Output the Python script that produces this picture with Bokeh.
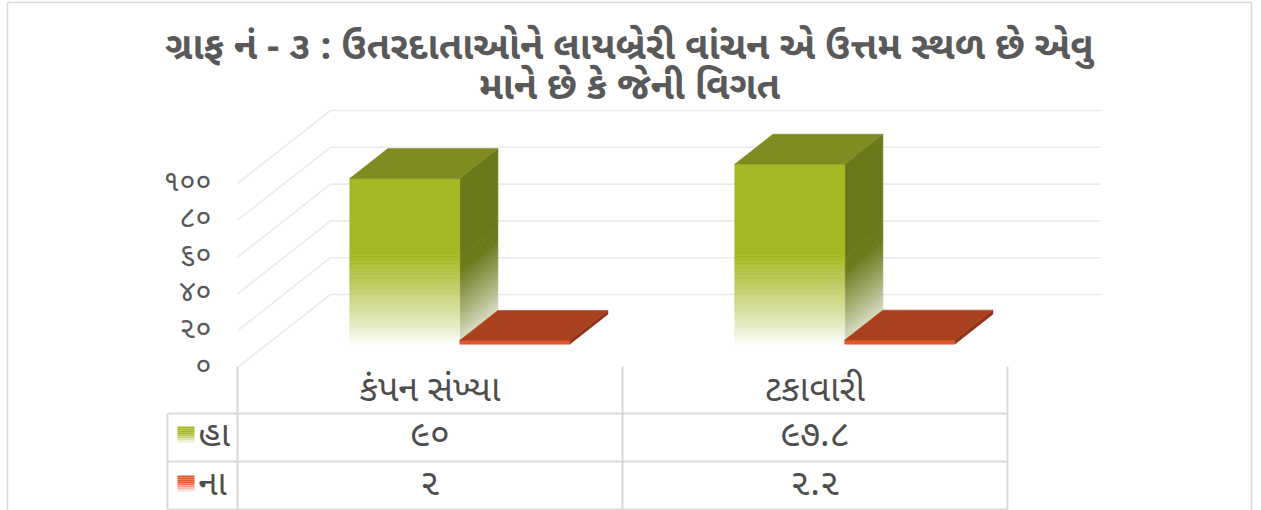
from bokeh.plotting import figure
from bokeh.models import Range1d
from bokeh.core.properties import value
from bokeh.embed import file_html
from bokeh.resources import INLINE

# ---------------- data ----------------
categories = ["કંપન સંખ્યા", "ટકાવારી"]
series_names = ["હા", "ના"]
yes_values = [90, 97.8]
no_values = [2, 2.2]
y_ticks = [0, 20, 40, 60, 80, 100]
title_lines = ["ગ્રાફ નં - ૩ : ઉતરદાતાઓને લાયબ્રેરી વાંચન એ ઉત્તમ સ્થળ છે એવુ",
               "માને છે કે જેની વિગત"]

series_values = [yes_values, no_values]

GU = str.maketrans("0123456789", "૦૧૨૩૪૫૬૭૮૯")
def gu(n):
    return f"{n:g}".translate(GU)

FONT = "Noto Sans Gujarati, Lohit Gujarati, Noto Sans, sans-serif"

# ---------------- layout constants ----------------
W, H = 1261, 510
S = 1.84            # px per value unit
FRONT0 = 367        # screen y of value 0 on the front plane
DXD = 93            # screen x shift per unit depth
DYD = 73 / S        # data y shift per unit depth

def Yp(py):
    return (FRONT0 - py) / S

p = figure(width=W, height=H, x_range=Range1d(0, W), y_range=Range1d(Yp(H), Yp(0)),
           min_border=0, toolbar_location=None, output_backend="svg")
p.axis.visible = False
p.grid.visible = False
p.outline_line_color = None
p.background_fill_color = "white"
p.border_fill_color = "white"

# outer border
BC = "#D9D9D9"
p.segment(x0=[7, 7, 1251], y0=[Yp(2), Yp(2), Yp(2)], x1=[1251, 7, 1251], y1=[Yp(2), Yp(H), Yp(H)],
          line_color=BC, line_width=1.5)

# title
for i, t in enumerate(title_lines):
    p.text(x=[629], y=[Yp(49 + 40 * i)], text=[t], text_align="center", text_baseline="middle",
           text_font=value(FONT), text_font_size="38px", text_font_style="bold", text_color="#595959")

# walls: back gridlines and left-wall diagonals
WALL_L = 237
BACK_L, BACK_R = WALL_L + DXD, 1100
GC = "#EBEBEB"
p.segment(x0=[BACK_L] * len(y_ticks), y0=[v + DYD for v in y_ticks],
          x1=[BACK_R] * len(y_ticks), y1=[v + DYD for v in y_ticks], line_color=GC, line_width=1.6)
p.segment(x0=[WALL_L] * len(y_ticks), y0=y_ticks,
          x1=[BACK_L] * len(y_ticks), y1=[v + DYD for v in y_ticks], line_color=GC, line_width=1.6)

# y tick labels (front plane)
p.text(x=[211] * len(y_ticks), y=y_ticks, text=[gu(v) for v in y_ticks], text_align="right",
       text_baseline="middle", text_font=value(FONT), text_font_size="29px", text_color="#595959")

# ---------------- bars ----------------
CAT_W = 385
BAR_W = 110
D0, DD = 0.32, 0.41
FADE = 48.0

def blend(c, t):
    r = int(round(255 + (c[0] - 255) * t))
    g = int(round(255 + (c[1] - 255) * t))
    b = int(round(255 + (c[2] - 255) * t))
    return "#%02x%02x%02x" % (r, g, b)

styles = [
    dict(front=(166, 184, 38), side=(106, 121, 26), top=(128, 140, 34), fade=True),
    dict(front=(226, 88, 42), side=(140, 52, 23), top=(170, 65, 30), fade=False),
]

for i, cat in enumerate(categories):
    center = WALL_L + CAT_W * (i + 0.5)
    for j, vals in enumerate(series_values):
        v = vals[i]
        st = styles[j]
        xl = center - BAR_W + j * BAR_W + DXD * D0
        xr = xl + BAR_W
        yb = DYD * D0
        dx = DXD * DD
        dy = DYD * DD
        if st["fade"]:
            edges = [0.0]
            while edges[-1] < min(v, FADE):
                edges.append(min(edges[-1] + 1.5, v, FADE))
            if v > FADE:
                edges.append(v)
        else:
            edges = [0.0, v]
        fx, fy, fc = [], [], []
        sx, sy, sc = [], [], []
        for a, b in zip(edges[:-1], edges[1:]):
            m = (a + b) / 2
            t = min(1.0, m / FADE) if st["fade"] else 1.0
            t = t ** 0.85
            fx.append([xl, xr, xr, xl]); fy.append([yb + a, yb + a, yb + b, yb + b])
            fc.append(blend(st["front"], t))
            sx.append([xr, xr + dx, xr + dx, xr]); sy.append([yb + a, yb + a + dy, yb + b + dy, yb + b])
            ts = min(1.0, (m + 8) / FADE) if st["fade"] else 1.0
            sc.append(blend(st["side"], ts ** 0.85))
        p.patches(xs=sx, ys=sy, fill_color=sc, line_color=sc, line_width=0.6)
        p.patches(xs=fx, ys=fy, fill_color=fc, line_color=fc, line_width=0.6)
        topc = blend(st["top"], 1.0)
        p.patch(x=[xl, xr, xr + dx, xl + dx], y=[yb + v, yb + v, yb + v + dy, yb + v + dy],
                fill_color=topc, line_color=topc, line_width=0.6)

# ---------------- data table ----------------
TL, TR = 167, 1007
COLS = [WALL_L, WALL_L + CAT_W, WALL_L + 2 * CAT_W]
ROW_Y = [413, 461, 509]
p.segment(x0=COLS, y0=[Yp(366)] * 3, x1=COLS, y1=[Yp(509)] * 3, line_color=BC, line_width=2)
p.segment(x0=[TL], y0=[Yp(413)], x1=[TL], y1=[Yp(509)], line_color=BC, line_width=2)
p.segment(x0=[TL] * 3, y0=[Yp(r) for r in ROW_Y], x1=[TR] * 3, y1=[Yp(r) for r in ROW_Y],
          line_color=BC, line_width=2)

cat_centers = [WALL_L + CAT_W * (i + 0.5) for i in range(len(categories))]
p.text(x=cat_centers, y=[Yp(392)] * len(categories), text=categories, text_align="center",
       text_baseline="middle", text_font=value(FONT), text_font_size="36px", text_color="#4d4d4d")

row_centers = [437, 486]
for j, vals in enumerate(series_values):
    p.text(x=cat_centers, y=[Yp(row_centers[j])] * len(vals), text=[gu(v) for v in vals],
           text_align="center", text_baseline="middle", text_font=value(FONT),
           text_font_size="36px", text_color="#4d4d4d")
    st = styles[j]
    top_px = row_centers[j] - 11
    n = 8
    qt, qb, qc = [], [], []
    for k in range(n):
        a = top_px + 16 * k / n
        b = top_px + 16 * (k + 1) / n
        t = 1.0 if k < 4 else 1.0 - (k - 3) / 5
        qt.append(Yp(a)); qb.append(Yp(b)); qc.append(blend(st["front"], t))
    p.quad(left=[177] * n, right=[194] * n, top=qt, bottom=qb, fill_color=qc, line_color=None)
    p.text(x=[198], y=[Yp(row_centers[j])], text=[series_names[j]], text_align="left",
           text_baseline="middle", text_font=value(FONT), text_font_size="35px", text_color="#4d4d4d")

open("out.html", "w").write(file_html(p, INLINE))
